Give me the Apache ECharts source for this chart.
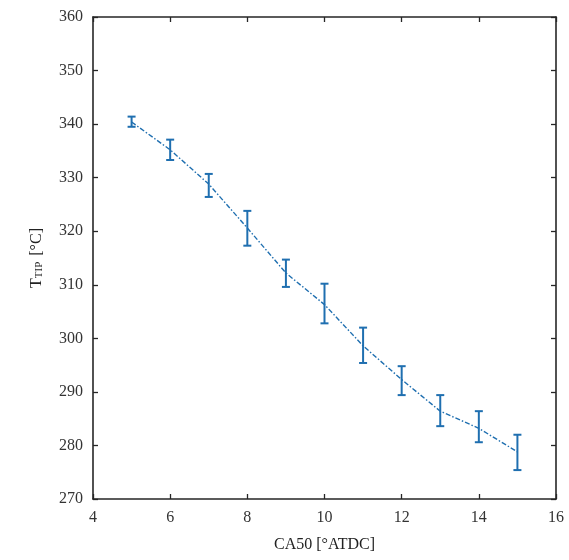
<!DOCTYPE html>
<html><head><meta charset="utf-8">
<script src="https://cdn.jsdelivr.net/npm/echarts@6/dist/echarts.min.js"></script>
<style>html,body{margin:0;padding:0;background:#fff}#c{width:569px;height:560px}</style>
</head><body><div id="c"></div>
<script>
const xValues = [5, 6, 7, 8, 9, 10, 11, 12, 13, 14, 15];
const meanValues = [340.4, 335.2, 328.8, 320.6, 312.2, 306.3, 298.6, 292.3, 286.4, 283.2, 278.8];
const lowValues = [339.5, 333.3, 326.4, 317.3, 309.6, 302.8, 295.4, 289.4, 283.6, 280.6, 275.4];
const highValues = [341.4, 337.1, 330.7, 323.8, 314.7, 310.2, 302.0, 294.8, 289.4, 286.4, 282.0];

const color = '#1f6fb0';
const axisColor = '#262626';
const font = 'Liberation Serif';

const chart = echarts.init(document.getElementById('c'));
const lineData = xValues.map((x, i) => [x, meanValues[i]]);
const errData = xValues.map((x, i) => [x, lowValues[i], highValues[i]]);

chart.setOption({
  animation: false,
  grid: {left: 93, right: 13, top: 17, bottom: 61},
  xAxis: [{
    type: 'value', min: 4, max: 16, interval: 2,
    name: 'CA50 [°ATDC]', nameLocation: 'middle', nameGap: 38,
    nameTextStyle: {fontFamily: font, fontSize: 16, color: '#222'},
    axisLine: {onZero: false, lineStyle: {color: axisColor, width: 1.6}},
    axisTick: {inside: true, length: 5, lineStyle: {color: axisColor, width: 1.3}},
    axisLabel: {fontFamily: font, fontSize: 16, color: '#333', margin: 11},
    splitLine: {show: false}
  }, {
    type: 'value', min: 4, max: 16, interval: 2, position: 'top',
    axisLine: {onZero: false, lineStyle: {color: axisColor, width: 1.6}},
    axisTick: {inside: true, length: 5, lineStyle: {color: axisColor, width: 1.3}},
    axisLabel: {show: false}, splitLine: {show: false}
  }],
  yAxis: [{
    type: 'value', min: 270, max: 360, interval: 10,
    name: '{t|T}{s|TIP}{t| [°C]}', nameLocation: 'middle', nameGap: 48, nameRotate: 90,
    nameTextStyle: {rich: {
      t: {fontFamily: font, fontSize: 16, color: '#222'},
      s: {fontFamily: font, fontSize: 11, color: '#222', verticalAlign: 'bottom', padding: [6, 2, 0, 0]}
    }},
    axisLine: {onZero: false, lineStyle: {color: axisColor, width: 1.6}},
    axisTick: {inside: true, length: 5, lineStyle: {color: axisColor, width: 1.3}},
    axisLabel: {fontFamily: font, fontSize: 16, color: '#333', margin: 10},
    splitLine: {show: false}
  }, {
    type: 'value', min: 270, max: 360, interval: 10, position: 'right',
    axisLine: {onZero: false, lineStyle: {color: axisColor, width: 1.6}},
    axisTick: {inside: true, length: 5, lineStyle: {color: axisColor, width: 1.3}},
    axisLabel: {show: false}, splitLine: {show: false}
  }],
  series: [{
    type: 'line', data: lineData, symbol: 'none',
    lineStyle: {color: color, width: 1.4, type: [5, 2, 1.5, 2]}
  }, {
    type: 'custom', data: errData,
    renderItem: function (params, api) {
      const x = api.value(0);
      const lo = api.coord([x, api.value(1)]);
      const hi = api.coord([x, api.value(2)]);
      const hw = 4;
      const style = {stroke: color, lineWidth: 2};
      return {type: 'group', children: [
        {type: 'line', shape: {x1: lo[0], y1: lo[1], x2: hi[0], y2: hi[1]}, style: style},
        {type: 'line', shape: {x1: lo[0] - hw, y1: lo[1], x2: lo[0] + hw, y2: lo[1]}, style: style},
        {type: 'line', shape: {x1: hi[0] - hw, y1: hi[1], x2: hi[0] + hw, y2: hi[1]}, style: style}
      ]};
    },
    encode: {x: 0, y: [1, 2]}, z: 3
  }]
});
</script></body></html>
